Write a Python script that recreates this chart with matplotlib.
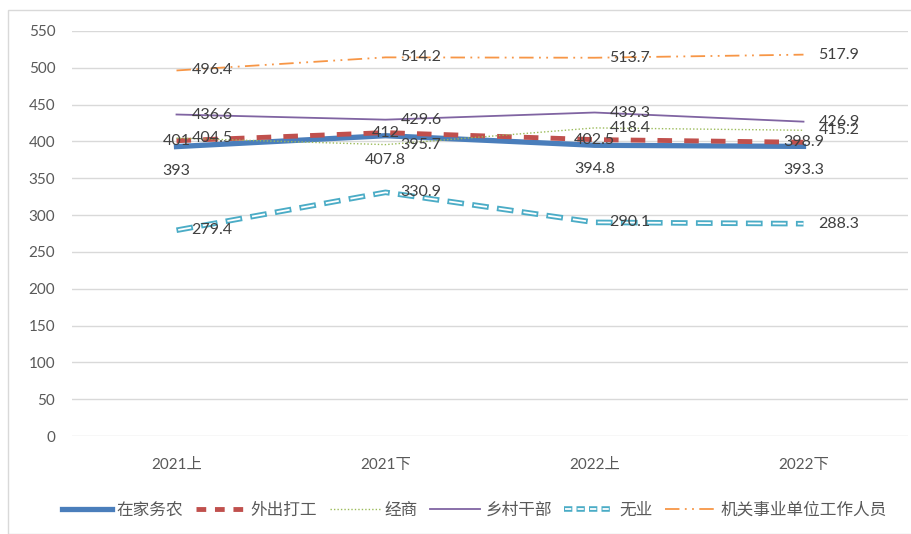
import matplotlib
matplotlib.use("Agg")
import matplotlib.pyplot as plt
from matplotlib.patches import Rectangle
from matplotlib.lines import Line2D
from matplotlib.legend_handler import HandlerTuple
import matplotlib.transforms as mtransforms

plt.rcParams['font.family'] = ['Lato', 'Noto Sans CJK SC', 'DejaVu Sans']

categories = ["2021上", "2021下", "2022上", "2022下"]
series_names = ["在家务农", "外出打工", "经商", "乡村干部", "无业", "机关事业单位工作人员"]
zaijia = [393, 407.8, 394.8, 393.3]
waichu = [401, 412, 402.5, 398.9]
jingshang = [404.5, 395.7, 418.4, 415.2]
xiangcun = [436.6, 429.6, 439.3, 426.9]
wuye = [279.4, 330.9, 290.1, 288.3]
jiguan = [496.4, 514.2, 513.7, 517.9]
yticks = [0, 50, 100, 150, 200, 250, 300, 350, 400, 450, 500, 550]

fig = plt.figure(figsize=(9.12, 5.34), dpi=100)
fig.patches.append(Rectangle((8/912, 0), 1, 1 - 10/534, transform=fig.transFigure,
                             fill=False, edgecolor='#d9d9d9', lw=1))
ax = fig.add_axes([72/912, 1 - 436/534, 836/912, (436 - 31)/534])
x = list(range(len(categories)))

for s in ax.spines.values():
    s.set_visible(False)
ax.set_ylim(0, 550)
ax.set_xlim(-0.5, len(categories) - 0.5)
ax.set_yticks(yticks)
ax.set_xticks(x)
ax.set_xticklabels(categories)
ax.tick_params(length=0, labelsize=11, colors='#595959', pad=12)
ax.tick_params(axis='x', pad=16)
ax.grid(axis='y', color='#d9d9d9', lw=1)
ax.set_axisbelow(True)

# cyan double-dash line: outer thick dashes + inner white dashes aligned
OUT_LW, IN_LW = 4.0, 1.3
on_pt, off_pt = 12.0, 6.0
period = on_pt + off_pt
in_on = on_pt - 2.5
in_off = period - in_on
in_offset = period - 1.25
out_ls = (0, (on_pt / OUT_LW, off_pt / OUT_LW))
in_ls = (in_offset / IN_LW, (in_on / IN_LW, in_off / IN_LW))

l1, = ax.plot(x, zaijia, color='#4a7ebb', lw=3.8, zorder=3)
l2, = ax.plot(x, waichu, color='#c0504d', lw=3.5, ls=(0, (3, 2.5)), zorder=4)
l3, = ax.plot(x, jingshang, color='#9bbb59', lw=1.0, ls=(0, (1, 1.5)), zorder=4)
l4, = ax.plot(x, xiangcun, color='#8064a2', lw=1.3, zorder=4)
l5a, = ax.plot(x, wuye, color='#4bacc6', lw=OUT_LW, ls=out_ls, zorder=4)
l5b, = ax.plot(x, wuye, color='white', lw=IN_LW, ls=in_ls, zorder=5)
l6, = ax.plot(x, jiguan, color='#f79646', lw=1.3, ls=(0, (8, 3, 1, 3, 1, 3)), zorder=4)

label_kw = dict(fontsize=11.5, color='#404040', zorder=6)

def lab(vals, mode):
    for xi, v in zip(x, vals):
        txt = f"{v:g}"
        if mode == 'right':
            off = mtransforms.offset_copy(ax.transData, fig=fig, x=15, y=0, units='dots')
            ax.text(xi, v, txt, transform=off, ha='left', va='center', **label_kw)
        elif mode == 'below':
            off = mtransforms.offset_copy(ax.transData, fig=fig, x=0, y=-24, units='dots')
            ax.text(xi, v, txt, transform=off, ha='center', va='center', **label_kw)
        else:
            ax.text(xi, v, txt, ha='center', va='center', **label_kw)

lab(zaijia, 'below')
lab(waichu, 'center')
lab(jingshang, 'right')
lab(xiangcun, 'right')
lab(wuye, 'right')
lab(jiguan, 'right')

# legend proxies
h5a = Line2D([], [], color='#4bacc6', lw=OUT_LW, ls=(0, (6 / OUT_LW, 3 / OUT_LW)))
h5b = Line2D([], [], color='white', lw=IN_LW, ls=(8.25 / IN_LW, (4.5 / IN_LW, 4.5 / IN_LW)))
h2 = Line2D([], [], color='#c0504d', lw=3.5, ls=(0, (2, 1.8)))
handles = [l1, h2, l3, l4, (h5a, h5b), l6]
fig.legend(handles, series_names, loc='center', bbox_to_anchor=(474/912, 1 - 510/534),
           ncol=6, frameon=False, fontsize=12, handlelength=3.0, handletextpad=0.3,
           columnspacing=0.75, labelcolor='#595959',
           handler_map={tuple: HandlerTuple(ndivide=1, pad=0)})

fig.savefig("out.png", dpi=100)
